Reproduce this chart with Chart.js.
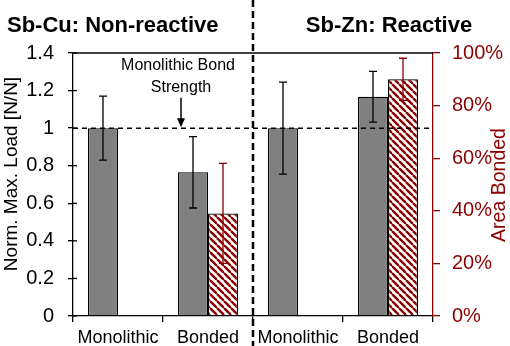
<!DOCTYPE html>
<html lang="en">
<head>
    <meta charset="UTF-8">
    <title>Sb bond strength</title>
    <script src="https://cdn.jsdelivr.net/npm/chart.js"></script>
    <style>
        html, body { margin: 0; padding: 0; background: #fff; }
        #wrap { width: 510px; height: 346px; position: relative; }
    </style>
</head>
<body>
<div id="wrap"><canvas id="diagram"></canvas></div>
<script>
    const categories = ["Monolithic", "Bonded", "Monolithic", "Bonded"];
    const loadValues = [1.0, 0.765, 1.0, 1.167];
    const loadErrors = [0.17, 0.19, 0.245, 0.135];
    const areaValues = [null, 39, null, 90];
    const areaErrors = [null, 19, null, 8];
    const loadTicks = [0, 0.2, 0.4, 0.6, 0.8, 1, 1.2, 1.4];
    const areaTicks = [0, 20, 40, 60, 80, 100];
    const panelTitles = ["Sb-Cu: Non-reactive", "Sb-Zn: Reactive"];

    const darkRed = "#8b0000";
    const font = "Liberation Sans, Arial, sans-serif";

    function hatch() {
        const c = document.createElement("canvas");
        c.width = 7; c.height = 7;
        const g = c.getContext("2d");
        g.fillStyle = "#fff";
        g.fillRect(0, 0, 7, 7);
        g.strokeStyle = darkRed;
        g.lineWidth = 2.4;
        for (let k = -7; k <= 14; k += 7) {
            g.beginPath();
            g.moveTo(k, 0);
            g.lineTo(k + 7, 7);
            g.stroke();
        }
        return g.createPattern(c, "repeat");
    }

    const extras = {
        id: "extras",
        afterDatasetsDraw(chart) {
            const ctx = chart.ctx;
            const x = chart.scales.x, y = chart.scales.y, y2 = chart.scales.y2;
            const area = chart.chartArea;
            ctx.save();

            // error bars
            const drawErr = (metaIdx, vals, errs, scale, color) => {
                const meta = chart.getDatasetMeta(metaIdx);
                ctx.strokeStyle = color;
                ctx.lineWidth = 1.3;
                meta.data.forEach((bar, i) => {
                    if (vals[i] == null) return;
                    const top = scale.getPixelForValue(vals[i] + errs[i]);
                    const bot = scale.getPixelForValue(vals[i] - errs[i]);
                    ctx.beginPath();
                    ctx.moveTo(bar.x, top); ctx.lineTo(bar.x, bot);
                    ctx.moveTo(bar.x - 4, top); ctx.lineTo(bar.x + 4, top);
                    ctx.moveTo(bar.x - 4, bot); ctx.lineTo(bar.x + 4, bot);
                    ctx.stroke();
                });
            };
            drawErr(0, loadValues, loadErrors, y, "#000");
            drawErr(1, areaValues, areaErrors, y2, darkRed);

            // top frame line
            ctx.strokeStyle = "#000";
            ctx.lineWidth = 1.3;
            ctx.beginPath();
            ctx.moveTo(area.left, area.top); ctx.lineTo(area.right, area.top);
            ctx.stroke();

            // inner ticks of left axis
            loadTicks.forEach(v => {
                const py = y.getPixelForValue(v);
                ctx.beginPath();
                ctx.moveTo(area.left, py); ctx.lineTo(area.left + 4, py);
                ctx.stroke();
            });

            // dashed reference line at 1
            const py1 = y.getPixelForValue(1);
            ctx.setLineDash([5, 4]);
            ctx.lineWidth = 1.5;
            ctx.beginPath();
            ctx.moveTo(area.left, py1); ctx.lineTo(area.right, py1);
            ctx.stroke();

            // dashed panel divider
            const mid = (x.getPixelForValue(1) + x.getPixelForValue(2)) / 2;
            ctx.lineWidth = 2.5;
            ctx.setLineDash([7, 4]);
            ctx.beginPath();
            ctx.moveTo(mid, 0); ctx.lineTo(mid, chart.height);
            ctx.stroke();
            ctx.setLineDash([]);

            // annotation
            const ax = x.getPixelForValue(0) + 0.7 * (x.getPixelForValue(1) - x.getPixelForValue(0));
            ctx.fillStyle = "#000";
            ctx.font = "16px " + font;
            ctx.textAlign = "center";
            ctx.textBaseline = "middle";
            ctx.fillText("Monolithic Bond", ax - 3, y.getPixelForValue(1.332));
            ctx.fillText("Strength", ax, y.getPixelForValue(1.218));
            const aTop = y.getPixelForValue(1.162);
            ctx.lineWidth = 1.5;
            ctx.beginPath();
            ctx.moveTo(ax, aTop); ctx.lineTo(ax, py1 - 6);
            ctx.stroke();
            ctx.beginPath();
            ctx.moveTo(ax - 4, py1 - 10); ctx.lineTo(ax + 4, py1 - 10); ctx.lineTo(ax, py1 - 1);
            ctx.closePath();
            ctx.fill();

            // axis titles, both reading bottom to top
            ctx.save();
            ctx.translate(12, 174);
            ctx.rotate(-Math.PI / 2);
            ctx.font = "19px " + font;
            ctx.fillText("Norm. Max. Load [N/N]", 0, 0);
            ctx.restore();
            ctx.save();
            ctx.translate(500, 185);
            ctx.rotate(-Math.PI / 2);
            ctx.fillStyle = darkRed;
            ctx.font = "19.5px " + font;
            ctx.fillText("Area Bonded", 0, 0);
            ctx.restore();

            // panel titles
            ctx.font = "bold 22px " + font;
            ctx.textBaseline = "alphabetic";
            ctx.textAlign = "left";
            ctx.fillText(panelTitles[0], 7, 32);
            ctx.textAlign = "center";
            ctx.fillText(panelTitles[1], 389, 32);
            ctx.restore();
        }
    };

    const chart = new Chart("diagram", {
        type: "bar",
        data: {
            labels: categories,
            datasets: [
                {
                    label: "Norm. Max. Load",
                    data: loadValues,
                    backgroundColor: "#808080",
                    borderColor: "#000",
                    borderWidth: 1.3,
                    yAxisID: "y"
                },
                {
                    label: "Area Bonded",
                    data: areaValues,
                    backgroundColor: hatch(),
                    borderColor: "#000",
                    borderWidth: 1.3,
                    yAxisID: "y2"
                }
            ]
        },
        plugins: [extras],
        options: {
            responsive: true,
            maintainAspectRatio: false,
            animation: false,
            layout: { padding: { top: 53, left: 0, right: 0, bottom: 0 } },
            datasets: { bar: { categoryPercentage: 2 / 3, barPercentage: 1 } },
            plugins: { legend: { display: false }, tooltip: { enabled: false } },
            scales: {
                x: {
                    grid: { display: true, drawOnChartArea: false, offset: true, tickLength: 6, color: "#000", lineWidth: 1.3 },
                    border: { color: "#000", width: 1.3 },
                    ticks: { color: "#000", font: { family: font, size: 18 }, padding: 5 },
                    afterFit: s => { s.height = 30; }
                },
                y: {
                    position: "left",
                    min: 0, max: 1.4,
                    afterBuildTicks: s => { s.ticks = loadTicks.map(v => ({ value: v })); },
                    grid: { display: true, drawOnChartArea: false, tickLength: 5, color: "#000", lineWidth: 1.3 },
                    border: { color: "#000", width: 1.3 },
                    ticks: { color: "#000", font: { family: font, size: 20 }, padding: 14, callback: v => String(v) },
                    afterFit: s => { s.width = 73; }
                },
                y2: {
                    position: "right",
                    min: 0, max: 100,
                    afterBuildTicks: s => { s.ticks = areaTicks.map(v => ({ value: v })); },
                    grid: { display: true, drawOnChartArea: false, tickLength: 7, color: darkRed, lineWidth: 1.3 },
                    border: { color: darkRed, width: 1.3 },
                    ticks: { color: darkRed, font: { family: font, size: 20 }, padding: 12, callback: v => v + "%" },
                    afterFit: s => { s.width = 77; }
                }
            }
        }
    });
</script>
</html>
